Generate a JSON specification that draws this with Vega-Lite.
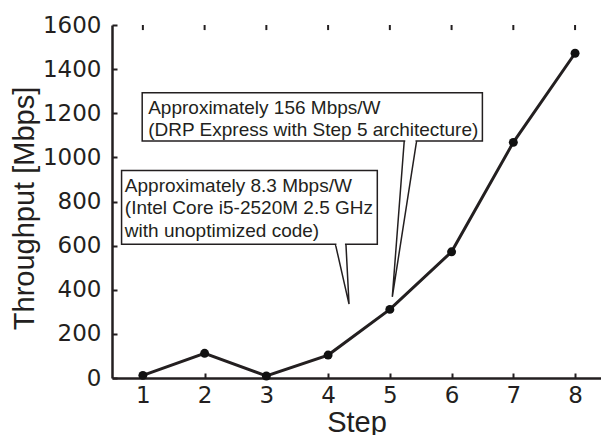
{
  "$schema": "https://vega.github.io/schema/vega-lite/v6.json",
  "width": 489,
  "height": 353,
  "autosize": {"type": "none"},
  "padding": {"left": 112, "top": 25, "right": 0, "bottom": 57},
  "background": "white",
  "config": {
    "view": {"stroke": null},
    "font": "Liberation Sans",
    "axis": {
      "domainColor": "#231f20",
      "domainWidth": 2.5,
      "tickColor": "#231f20",
      "tickWidth": 2,
      "grid": false,
      "labelFont": "DejaVu Sans",
      "labelFontSize": 23,
      "labelColor": "#231f20",
      "titleFont": "Liberation Sans",
      "titleFontSize": 29,
      "titleFontWeight": "normal",
      "titleColor": "#231f20"
    }
  },
  "datasets": {
    "throughput": [
      {"step": 1, "mbps": 12},
      {"step": 2, "mbps": 112},
      {"step": 3, "mbps": 9},
      {"step": 4, "mbps": 104},
      {"step": 5, "mbps": 311},
      {"step": 6, "mbps": 572},
      {"step": 7, "mbps": 1068},
      {"step": 8, "mbps": 1472}
    ],
    "boxes": [
      {"box": "drp", "x1": 0.989, "x2": 6.499, "y1": 1293, "y2": 1074, "tx": 1.086,
       "lines": ["Approximately 156 Mbps/W", "(DRP Express with Step 5 architecture)"]},
      {"box": "cpu", "x1": 0.655, "x2": 4.797, "y1": 940, "y2": 606, "tx": 0.708,
       "lines": ["Approximately 8.3 Mbps/W", "(Intel Core i5-2520M 2.5 GHz", "\u00a0with unoptimized code)"]}
    ],
    "wedges": [
      {"box": "drp", "ord": 1, "x": 5.233, "y": 1074},
      {"box": "drp", "ord": 2, "x": 5.040, "y": 368},
      {"box": "drp", "ord": 3, "x": 5.433, "y": 1074},
      {"box": "cpu", "ord": 1, "x": 4.119, "y": 606},
      {"box": "cpu", "ord": 2, "x": 4.339, "y": 335},
      {"box": "cpu", "ord": 3, "x": 4.289, "y": 606}
    ],
    "gaps": [
      {"box": "drp", "xa": 5.25, "xb": 5.415, "y": 1074},
      {"box": "cpu", "xa": 4.135, "xb": 4.273, "y": 606}
    ]
  },
  "layer": [
    {
      "mark": {"type": "rule", "color": "#231f20", "strokeWidth": 2.5, "strokeDash": [3, 2]},
      "encoding": {
        "y": {"datum": 285, "type": "quantitative"}
      }
    },
    {
      "mark": {"type": "rule", "color": "#231f20", "strokeWidth": 2.5},
      "encoding": {
        "y": {"datum": 1600, "type": "quantitative"}
      }
    },
    {
      "data": {"name": "throughput"},
      "mark": {"type": "rule", "color": "#231f20", "strokeWidth": 2},
      "encoding": {
        "x": {"field": "step", "type": "quantitative"},
        "y": {"datum": 1600, "type": "quantitative"},
        "y2": {"datum": 1577}
      }
    },
    {
      "data": {"name": "throughput"},
      "mark": {"type": "line", "color": "#231f20", "strokeWidth": 3},
      "encoding": {
        "x": {
          "field": "step", "type": "quantitative",
          "scale": {"domain": [0.5, 8.42], "nice": false, "zero": false},
          "axis": {"orient": "bottom", "values": [1, 2, 3, 4, 5, 6, 7, 8], "format": "d", "tickSize": -5, "labelPadding": 11, "title": "Step", "titleBaseline": "alphabetic", "titleY": 53, "titleAnchor": "middle", "labelFlush": false}
        },
        "y": {
          "field": "mbps", "type": "quantitative",
          "scale": {"domain": [0, 1600], "nice": false},
          "axis": {"values": [0, 200, 400, 600, 800, 1000, 1200, 1400, 1600], "format": "d", "tickSize": -5, "labelPadding": 16, "labelBaseline": "middle", "title": "Throughput [Mbps]", "titleAngle": -90, "titleBaseline": "alphabetic", "titleAlign": "center", "titleX": -79, "titleY": 183, "labelFlush": false}
        }
      }
    },
    {
      "data": {"name": "throughput"},
      "mark": {"type": "point", "filled": true, "shape": "circle", "size": 80, "color": "#111111", "opacity": 1},
      "encoding": {
        "x": {"field": "step", "type": "quantitative"},
        "y": {"field": "mbps", "type": "quantitative"}
      }
    },
    {
      "data": {"name": "boxes"},
      "mark": {"type": "rect", "fill": "white", "stroke": "#231f20", "strokeWidth": 1.5},
      "encoding": {
        "x": {"field": "x1", "type": "quantitative"},
        "x2": {"field": "x2"},
        "y": {"field": "y1", "type": "quantitative"},
        "y2": {"field": "y2"}
      }
    },
    {
      "data": {"name": "wedges"},
      "mark": {"type": "line", "color": "#231f20", "strokeWidth": 1.5},
      "encoding": {
        "x": {"field": "x", "type": "quantitative"},
        "y": {"field": "y", "type": "quantitative"},
        "detail": {"field": "box"},
        "order": {"field": "ord", "type": "quantitative"}
      }
    },
    {
      "data": {"name": "gaps"},
      "mark": {"type": "rule", "color": "white", "strokeWidth": 3},
      "encoding": {
        "x": {"field": "xa", "type": "quantitative"},
        "x2": {"field": "xb"},
        "y": {"field": "y", "type": "quantitative"}
      }
    },
    {
      "data": {"name": "boxes"},
      "mark": {"type": "text", "align": "left", "baseline": "top", "dy": 6, "fontSize": 19, "lineHeight": 22.7, "color": "#231f20", "font": "Liberation Sans"},
      "encoding": {
        "x": {"field": "tx", "type": "quantitative"},
        "y": {"field": "y1", "type": "quantitative"},
        "text": {"field": "lines"}
      }
    }
  ]
}
